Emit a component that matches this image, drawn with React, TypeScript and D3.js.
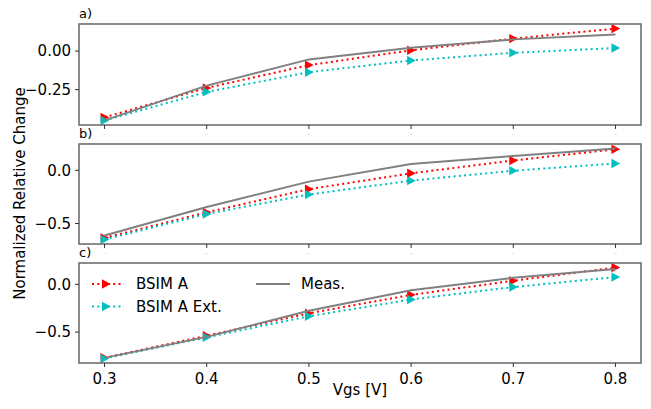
import React from "react";
import * as d3 from "d3";

const vgs = [0.3, 0.4, 0.5, 0.6, 0.7, 0.8];

// panel a
const bsimA_a = [-0.43, -0.239, -0.091, 0.005, 0.081, 0.146];
const bsimExt_a = [-0.45, -0.265, -0.137, -0.061, -0.011, 0.02];
const meas_a = [-0.45, -0.224, -0.054, 0.022, 0.076, 0.107];

// panel b
const bsimA_b = [-0.635, -0.395, -0.177, -0.028, 0.093, 0.198];
const bsimExt_b = [-0.65, -0.41, -0.227, -0.097, -0.003, 0.065];
const meas_b = [-0.612, -0.345, -0.106, 0.059, 0.136, 0.205];

// panel c
const bsimA_c = [-0.769, -0.538, -0.303, -0.11, 0.038, 0.176];
const bsimExt_c = [-0.776, -0.555, -0.334, -0.159, -0.028, 0.076];
const meas_c = [-0.77, -0.55, -0.276, -0.062, 0.069, 0.162];

const yTicksA = [0, -0.25];
const yTicksBC = [0, -0.5];

const W = 651;
const H = 409;
const left = 79;
const right = 641;
const font = "DejaVu Sans, sans-serif";
const fs = 15;

const panels = [
  { label: "a)", top: 24, bottom: 125, a: bsimA_a, ext: bsimExt_a, meas: meas_a, ticks: yTicksA, fmt: d3.format(".2f"), legend: false },
  { label: "b)", top: 144, bottom: 244, a: bsimA_b, ext: bsimExt_b, meas: meas_b, ticks: yTicksBC, fmt: d3.format(".1f"), legend: false },
  { label: "c)", top: 263, bottom: 363, a: bsimA_c, ext: bsimExt_c, meas: meas_c, ticks: yTicksBC, fmt: d3.format(".1f"), legend: true },
];

const x = d3.scaleLinear().domain([0.275, 0.825]).range([left, right]);

const tri = (cx: number, cy: number, s = 4.7) =>
  `M${cx + s},${cy} L${cx - s * 0.85},${cy - s} L${cx - s * 0.85},${cy + s} Z`;

const fmtMinus = (f: (n: number) => string) => (v: number) => f(v).replace("-", "\u2212");

function Panel({ p, last }: { p: any; last: boolean }) {
  const all = [...p.a, ...p.ext, ...p.meas];
  const lo = d3.min(all) as number;
  const hi = d3.max(all) as number;
  const pad = (hi - lo) * 0.05;
  const y = d3.scaleLinear().domain([lo - pad, hi + pad]).range([p.bottom, p.top]);
  const line = d3
    .line<number>()
    .x((_, i) => x(vgs[i]))
    .y((d) => y(d));
  const fmt = fmtMinus(p.fmt);
  const series = [
    { vals: p.a, color: "#ff0000" },
    { vals: p.ext, color: "#00bfbf" },
  ];
  return (
    <g>
      <text x={left} y={p.top - 6} fontSize={13} fontFamily={font} fill="#000">
        {p.label}
      </text>
      <clipPath id={"clip" + p.label[0]}>
        <rect x={left} y={p.top} width={right - left} height={p.bottom - p.top} />
      </clipPath>
      <g clipPath={`url(#clip${p.label[0]})`}>
        {series.map((s, k) => (
          <g key={k}>
            <path d={line(s.vals) || ""} fill="none" stroke={s.color} strokeWidth={2} strokeDasharray="2,3.3" />
            {s.vals.map((v: number, i: number) => (
              <path key={i} d={tri(x(vgs[i]), y(v))} fill={s.color} />
            ))}
          </g>
        ))}
        <path d={line(p.meas) || ""} fill="none" stroke="#808080" strokeWidth={2} />
      </g>
      <rect x={left} y={p.top} width={right - left} height={p.bottom - p.top} fill="none" stroke="#666" strokeWidth={1.5} />
      {p.ticks.map((t: number) => (
        <g key={t}>
          <line x1={left - 4} x2={left} y1={y(t)} y2={y(t)} stroke="#333" strokeWidth={1} />
          <text x={left - 8} y={y(t)} dy="0.35em" textAnchor="end" fontSize={fs} fontFamily={font} fill="#000">
            {fmt(t)}
          </text>
        </g>
      ))}
      {vgs.map((v) => (
        <g key={v}>
          <line x1={x(v)} x2={x(v)} y1={p.bottom} y2={p.bottom + 4} stroke="#333" strokeWidth={1} />
          {last ? (
            <text x={x(v)} y={p.bottom + 21} textAnchor="middle" fontSize={fs} fontFamily={font} fill="#000">
              {v.toFixed(1)}
            </text>
          ) : (
            <text x={x(v)} y={p.bottom + 10} textAnchor="middle" fontSize={1.5} fontFamily={font} fill="#999">
              {v.toFixed(1)}
            </text>
          )}
        </g>
      ))}
      {p.legend && (
        <g fontFamily={font} fontSize={fs}>
          <line x1={92} x2={124} y1={284} y2={284} stroke="#ff0000" strokeWidth={2} strokeDasharray="2,3.3" />
          <path d={tri(106, 284)} fill="#ff0000" />
          <text x={136} y={284} dy="0.35em">BSIM A</text>
          <line x1={92} x2={124} y1={306.5} y2={306.5} stroke="#00bfbf" strokeWidth={2} strokeDasharray="2,3.3" />
          <path d={tri(106, 306.5)} fill="#00bfbf" />
          <text x={136} y={306.5} dy="0.35em">BSIM A Ext.</text>
          <line x1={256} x2={290} y1={284} y2={284} stroke="#808080" strokeWidth={2} />
          <text x={301} y={284} dy="0.35em">Meas.</text>
        </g>
      )}
    </g>
  );
}

export default function App() {
  return (
    <svg width={W} height={H} style={{ position: "absolute", left: 0, top: 0, background: "#fff" }}>
      {panels.map((p, i) => (
        <Panel key={p.label} p={p} last={i === panels.length - 1} />
      ))}
      <text
        transform={`translate(25,${(24 + 363) / 2}) rotate(-90)`}
        textAnchor="middle"
        fontSize={fs}
        fontFamily={font}
        fill="#000"
      >
        Normalized Relative Change
      </text>
      <text x={(left + right) / 2} y={395} textAnchor="middle" fontSize={fs} fontFamily={font} fill="#000">
        Vgs [V]
      </text>
    </svg>
  );
}
